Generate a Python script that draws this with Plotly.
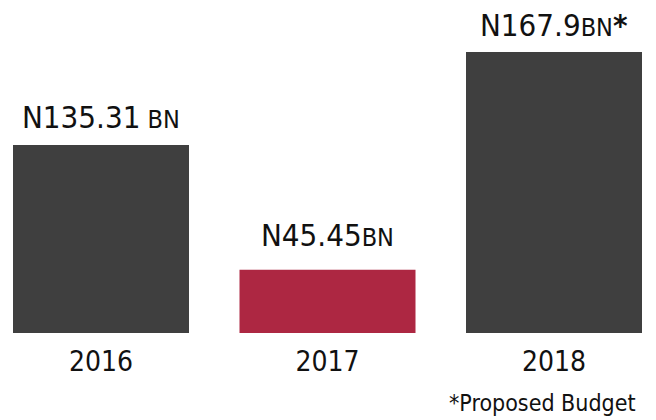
import plotly.graph_objects as go

years = ["2016", "2017", "2018"]
bar_heights = [135.31, 45.45, 202.2]  # visual heights
value_labels = ["N135.31", "N45.45", "N167.9"]
unit_labels = [" BN", "BN", "BN"]
marks = ["", "", "*"]
bar_colors = ["#3f3f3f", "#ad2742", "#3f3f3f"]
label_shift = [8, 15, 7]
footnote = "*Proposed Budget"

NARROW = "DejaVu Sans Condensed, Liberation Sans Narrow, sans-serif"

fig = go.Figure()
fig.add_trace(go.Bar(
    x=years, y=bar_heights, marker=dict(color=bar_colors, line=dict(width=0)),
    hoverinfo="skip",
))

for i, (h, v, u, m, s) in enumerate(zip(bar_heights, value_labels, unit_labels, marks, label_shift)):
    star = f"<b>{m}</b>" if m else ""
    fig.add_annotation(
        x=i, y=h, xref="x", yref="y", yanchor="bottom", xanchor="center",
        yshift=s, showarrow=False,
        text=f'{v}<span style="font-size:25px">{u}</span>{star}',
        font=dict(family=NARROW, size=31, color="#111111"),
    )

fig.add_annotation(
    x=638/656, y=0, xref="paper", yref="paper", showarrow=False,
    text=footnote, xanchor="right", yanchor="top", yshift=-55,
    font=dict(family=NARROW, size=23, color="#111111"),
)

fig.update_layout(
    width=656, height=420,
    margin=dict(l=0, r=0, t=0, b=87),
    paper_bgcolor="white", plot_bgcolor="white",
    bargap=1 - 176/226.5,
    showlegend=False,
    xaxis=dict(type="category", range=[-101/226.5, (656-101)/226.5],
               showgrid=False, zeroline=False, showline=False, ticks="",
               ticklabelstandoff=9,
               tickfont=dict(family=NARROW, size=28, color="#111111")),
    yaxis=dict(range=[0, 333/(188/135.31)], visible=False, showgrid=False, zeroline=False),
)

fig.write_html("out.html", config={"displayModeBar": False},
               post_script="document.body.style.margin='0';")
